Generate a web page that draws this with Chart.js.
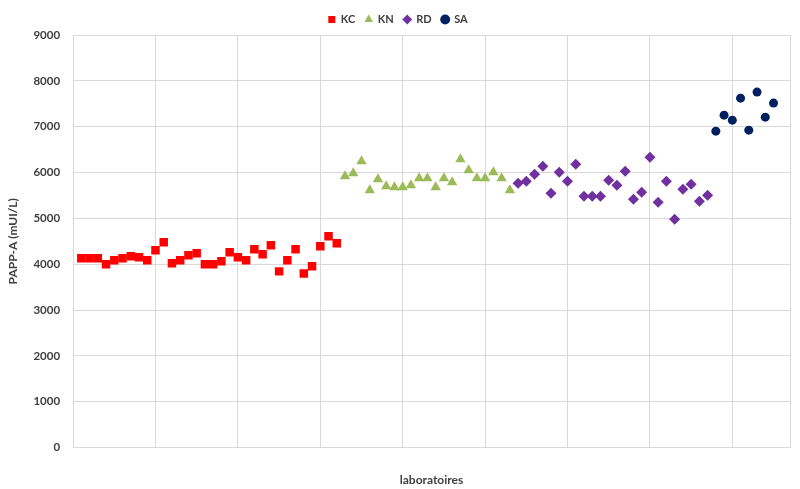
<!DOCTYPE html>
<html>
<head>
<meta charset="utf-8">
<script src="https://cdn.jsdelivr.net/npm/chart.js@4"></script>
<style>
  html, body { margin: 0; padding: 0; background: #fff; }
  #wrap { width: 800px; height: 489px; }
</style>
</head>
<body>
<div id="wrap"><canvas id="graf" width="800" height="489"></canvas></div>
<script>
// Données (x = n° de laboratoire)
const kcValues = [4128, 4128, 4128, 3997, 4085, 4128, 4172, 4150, 4085, 4303, 4478, 4019, 4085, 4194, 4238, 3997,
  3997, 4063, 4260, 4150, 4085, 4325, 4216, 4412, 3844, 4085, 4325, 3800, 3954, 4390, 4609, 4456];
const knValues = [5920, 5985, 6247, 5614, 5854, 5701, 5679, 5679, 5723, 5876, 5876, 5679, 5876, 5788, 6291, 6050,
  5876, 5876, 6007, 5876, 5614];
const rdValues = [5767, 5810, 5963, 6138, 5548, 6007, 5810, 6182, 5483, 5483, 5483, 5832, 5723, 6029, 5417, 5570,
  6335, 5352, 5810, 4980, 5636, 5745, 5374, 5505];
const saValues = [6903, 7252, 7143, 7623, 6924, 7755, 7208, 7514];
const yTicks = [0, 1000, 2000, 3000, 4000, 5000, 6000, 7000, 8000, 9000];

// chaque série commence après la précédente
function toPoints(values, start) {
  return values.map((v, i) => ({ x: start + i, y: v }));
}
const kcStart = 1;
const knStart = kcStart + kcValues.length;
const rdStart = knStart + knValues.length;
const saStart = rdStart + rdValues.length;

const font = "Lato, 'Open Sans', sans-serif";

new Chart(document.getElementById("graf"), {
  type: "scatter",
  data: {
    datasets: [
      { label: "KC", data: toPoints(kcValues, kcStart), pointStyle: "rect", pointRadius: 6,
        backgroundColor: "#ff0000", borderColor: "#ff0000", borderWidth: 0 },
      { label: "KN", data: toPoints(knValues, knStart), pointStyle: "triangle", pointRadius: 6,
        backgroundColor: "#9bbb59", borderColor: "#9bbb59", borderWidth: 0 },
      { label: "RD", data: toPoints(rdValues, rdStart), pointStyle: "rectRot", pointRadius: 5.5,
        backgroundColor: "#7030a0", borderColor: "#7030a0", borderWidth: 0 },
      { label: "SA", data: toPoints(saValues, saStart), pointStyle: "circle", pointRadius: 4.5,
        backgroundColor: "#002060", borderColor: "#002060", borderWidth: 0 }
    ]
  },
  options: {
    responsive: false,
    animation: false,
    layout: { padding: { left: 6, right: 10, top: 4, bottom: 2 } },
    plugins: {
      legend: {
        position: "top",
        labels: {
          usePointStyle: true,
          boxWidth: 7,
          boxHeight: 7,
          padding: 10,
          color: "#404040",
          font: { family: font, size: 11, weight: "bold" }
        }
      },
      tooltip: { enabled: false }
    },
    scales: {
      x: {
        type: "linear",
        min: 0,
        max: 87,
        grid: { color: "#d9d9d9", drawTicks: false },
        border: { color: "#d9d9d9" },
        ticks: { stepSize: 10, display: false },
        title: {
          display: true,
          text: "laboratoires",
          color: "#404040",
          font: { family: font, size: 12, weight: "bold" },
          padding: { top: 25, bottom: 0 }
        }
      },
      y: {
        min: 0,
        max: 9000,
        afterBuildTicks: (axis) => { axis.ticks = yTicks.map(v => ({ value: v })); },
        grid: { color: "#d9d9d9", drawTicks: false },
        border: { display: false },
        ticks: {
          padding: 13,
          color: "#404040",
          font: { family: font, size: 11.5, weight: "bold" },
          callback: (v) => String(v)
        },
        title: {
          display: true,
          text: "PAPP-A (mUI/L)",
          color: "#404040",
          font: { family: font, size: 12, weight: "bold" },
          padding: { top: 0, bottom: 0 }
        }
      }
    }
  }
});
</script>
</body>
</html>
